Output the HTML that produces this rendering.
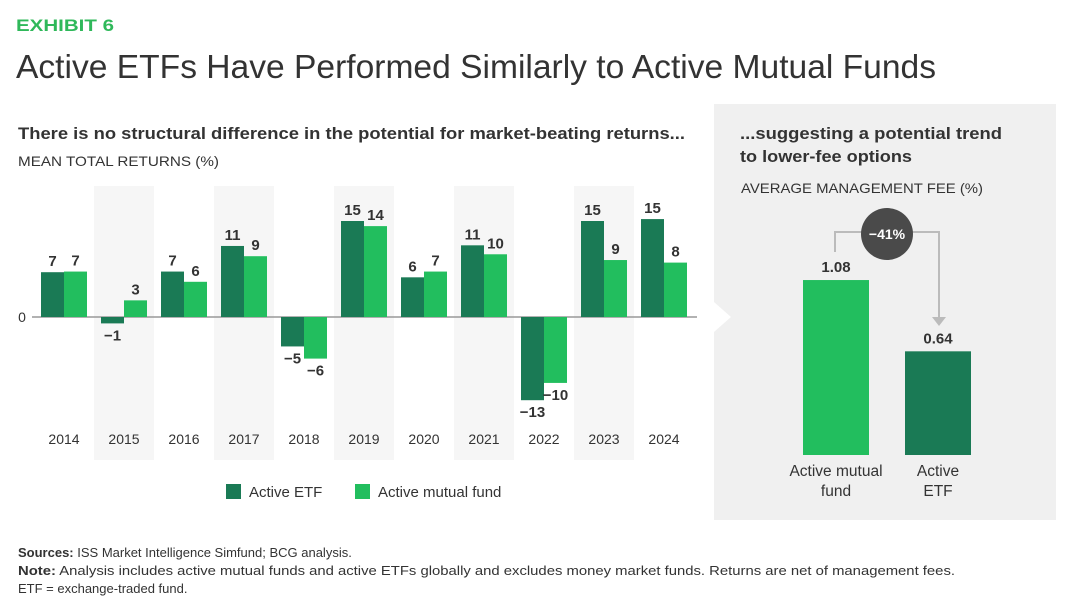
<!DOCTYPE html>
<html><head><meta charset="utf-8"><style>
html,body{margin:0;padding:0;background:#fff;}
svg{display:block;font-family:"Liberation Sans",sans-serif;}
</style></head><body>
<svg id="chart" width="1080" height="612" viewBox="0 0 1080 612">
<text x="16" y="31" font-size="17" font-weight="bold" fill="#2fb85a" textLength="98" lengthAdjust="spacingAndGlyphs">EXHIBIT 6</text>
<text x="16" y="78" font-size="33" fill="#333" textLength="920" lengthAdjust="spacingAndGlyphs">Active ETFs Have Performed Similarly to Active Mutual Funds</text>
<text x="18" y="139" font-size="16.5" font-weight="bold" fill="#333" textLength="667" lengthAdjust="spacingAndGlyphs">There is no structural difference in the potential for market-beating returns...</text>
<text x="18" y="166" font-size="14" fill="#333" textLength="201" lengthAdjust="spacingAndGlyphs">MEAN TOTAL RETURNS (%)</text>
<g id="bands"></g>
<line x1="32" y1="317" x2="697" y2="317" stroke="#999" stroke-width="1.5"/>
<text x="22" y="322" font-size="14" fill="#333" text-anchor="middle">0</text>
<g id="bars"></g>
<rect x="226" y="484" width="15" height="15" fill="#1a7a55"/>
<text x="249" y="497" font-size="15" fill="#333">Active ETF</text>
<rect x="355" y="484" width="15" height="15" fill="#22be5e"/>
<text x="378" y="497" font-size="15" fill="#333">Active mutual fund</text>
<rect x="714" y="104" width="342" height="416" fill="#f0f0f0"/>
<polygon points="714,302 731,317 714,332" fill="#fff"/>
<text x="740" y="139" font-size="16.5" font-weight="bold" fill="#333" textLength="262" lengthAdjust="spacingAndGlyphs">...suggesting a potential trend</text>
<text x="740" y="162" font-size="16.5" font-weight="bold" fill="#333" textLength="172" lengthAdjust="spacingAndGlyphs">to lower-fee options</text>
<text x="741" y="193" font-size="14" fill="#333" textLength="242" lengthAdjust="spacingAndGlyphs">AVERAGE MANAGEMENT FEE (%)</text>
<g id="fees"></g>
<polyline points="835,252 835,232 939,232 939,318" fill="none" stroke="#bbb" stroke-width="2"/>
<polygon points="932,317 946,317 939,326" fill="#bbb"/>
<circle cx="887" cy="234" r="26" fill="#4a4a4a"/>
<text x="887" y="239" font-size="14" font-weight="bold" fill="#fff" text-anchor="middle">−41%</text>
<text x="18" y="557" font-size="13" fill="#333"><tspan font-weight="bold">Sources:</tspan> ISS Market Intelligence Simfund; BCG analysis.</text>
<text x="18" y="575" font-size="13" fill="#333" textLength="937" lengthAdjust="spacingAndGlyphs"><tspan font-weight="bold">Note:</tspan> Analysis includes active mutual funds and active ETFs globally and excludes money market funds. Returns are net of management fees.</text>
<text x="18" y="593" font-size="13" fill="#333">ETF = exchange-traded fund.</text>
</svg>
<script>
const years = ["2014","2015","2016","2017","2018","2019","2020","2021","2022","2023","2024"];
const etfValues = [7.0, -1.0, 7.1, 11.1, -4.6, 15.0, 6.2, 11.2, -13.0, 15.0, 15.3];
const mfValues = [7.1, 2.6, 5.5, 9.5, -6.5, 14.2, 7.1, 9.8, -10.3, 8.9, 8.5];
const etfLabels = ["7","−1","7","11","−5","15","6","11","−13","15","15"];
const mfLabels = ["7","3","6","9","−6","14","7","10","−10","9","8"];
const feeCategories = ["Active mutual fund","Active ETF"];
const feeValues = [1.08, 0.64];
const feeLabels = ["1.08","0.64"];

const NS = "http://www.w3.org/2000/svg";
function mk(tag, attrs, parent){const e=document.createElementNS(NS,tag);for(const k in attrs)e.setAttribute(k,attrs[k]);parent.appendChild(e);return e;}
const zeroY = 317, pxPerUnit = 6.4;
const y = v => zeroY - v*pxPerUnit;
const xCenter = i => 64 + i*60;
const bw = 23;
const bands = document.getElementById('bands'), bars = document.getElementById('bars');
years.forEach((yr,i)=>{
  const cx = xCenter(i);
  if(i%2===1){
    const b = mk('rect',{x:cx-30,y:186,width:60,height:274,fill:'#f6f6f6'},bands);
    
    
  }
  [[etfValues[i],etfLabels[i],cx-bw,'#1a7a55','etf'],[mfValues[i],mfLabels[i],cx,'#22be5e','mf']].forEach(([v,l,x,c,s])=>{
    const top = Math.min(y(v),zeroY), h = Math.abs(y(v)-zeroY);
    const r = mk('rect',{x:x,y:top,width:bw,height:h,fill:c},bars);
    
    
    const ly = v>=0 ? y(v)-6 : y(v)+17;
    const t = mk('text',{x:x+bw/2,y:ly,'font-size':15,'font-weight':'bold',fill:'#333','text-anchor':'middle'},bars);
    t.textContent = l;
    
    
  });
  const xt = mk('text',{x:cx,y:444,'font-size':14,fill:'#333','text-anchor':'middle'},bars);
  xt.textContent = yr;
  
  
});
const fees = document.getElementById('fees');
const feeBase = 455, feeScale = 162, feeX = [803,905], feeW = 66, feeColors = ['#22be5e','#1a7a55'];
const feeLines = [["Active mutual","fund"],["Active","ETF"]];
feeValues.forEach((v,i)=>{
  const top = feeBase - v*feeScale;
  const r = mk('rect',{x:feeX[i],y:top,width:feeW,height:v*feeScale,fill:feeColors[i]},fees);
  
  
  const t = mk('text',{x:feeX[i]+feeW/2,y:top-8,'font-size':15,'font-weight':'bold',fill:'#333','text-anchor':'middle'},fees);
  t.textContent = feeLabels[i];
  
  
  feeLines[i].forEach((ln,j)=>{
    const c = mk('text',{x:feeX[i]+feeW/2,y:476+j*20,'font-size':15.5,fill:'#333','text-anchor':'middle'},fees);
    c.textContent = ln;
    
    
  });
});
</script>
</body></html>
